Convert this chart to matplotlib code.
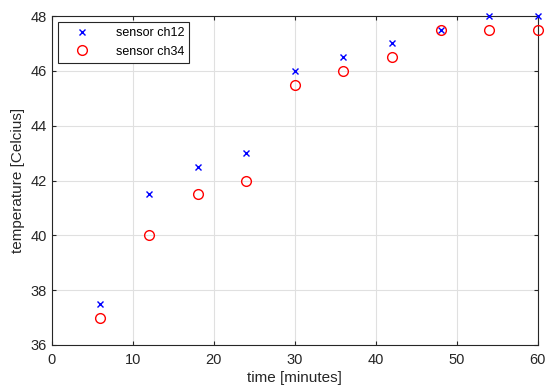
import matplotlib
matplotlib.use('Agg')
import matplotlib.pyplot as plt

# data
time_min = [6, 12, 18, 24, 30, 36, 42, 48, 54, 60]
ch12 = [37.5, 41.5, 42.5, 43.0, 46.0, 46.5, 47.0, 47.5, 48.0, 48.0]
ch34 = [37.0, 40.0, 41.5, 42.0, 45.5, 46.0, 46.5, 47.5, 47.5, 47.5]

plt.rcParams['font.family'] = ['Liberation Sans', 'DejaVu Sans']

fig = plt.figure(figsize=(5.46, 3.92), dpi=100)
ax = fig.add_axes([0.095, 0.12, 0.89, 0.839])

ax.plot(time_min, ch12, 'bx', markersize=5, markeredgewidth=1.0,
        label='sensor ch12', clip_on=False, zorder=3)
ax.plot(time_min, ch34, 'o', markersize=7, markerfacecolor='none',
        markeredgecolor='red', markeredgewidth=1.0,
        label='sensor ch34', clip_on=False, zorder=3)

ax.set_xlim(0, 60)
ax.set_ylim(36, 48)
ax.set_xticks(range(0, 61, 10))
ax.set_yticks(range(36, 49, 2))
ax.grid(True, color='#e0e0e0', linewidth=0.8)
ax.set_axisbelow(True)
ax.tick_params(direction='in', top=True, right=True, labelsize=10.5,
               length=3, width=0.8, color='#262626', labelcolor='#262626')
ax.tick_params(axis='x', pad=6)
for s in ax.spines.values():
    s.set_color('#262626')
    s.set_linewidth(0.8)

ax.set_xlabel('time [minutes]', fontsize=11, color='#262626', labelpad=3)
ax.set_ylabel('temperature [Celcius]', fontsize=11, color='#262626', labelpad=4)

leg = ax.legend(loc='upper left', fontsize=9, fancybox=False, framealpha=1,
                edgecolor='#262626', borderaxespad=0.5, handlelength=3.0,
                handletextpad=1.2, borderpad=0.4, labelspacing=0.5)
leg.get_frame().set_linewidth(0.8)

fig.savefig('out.png', dpi=100)
